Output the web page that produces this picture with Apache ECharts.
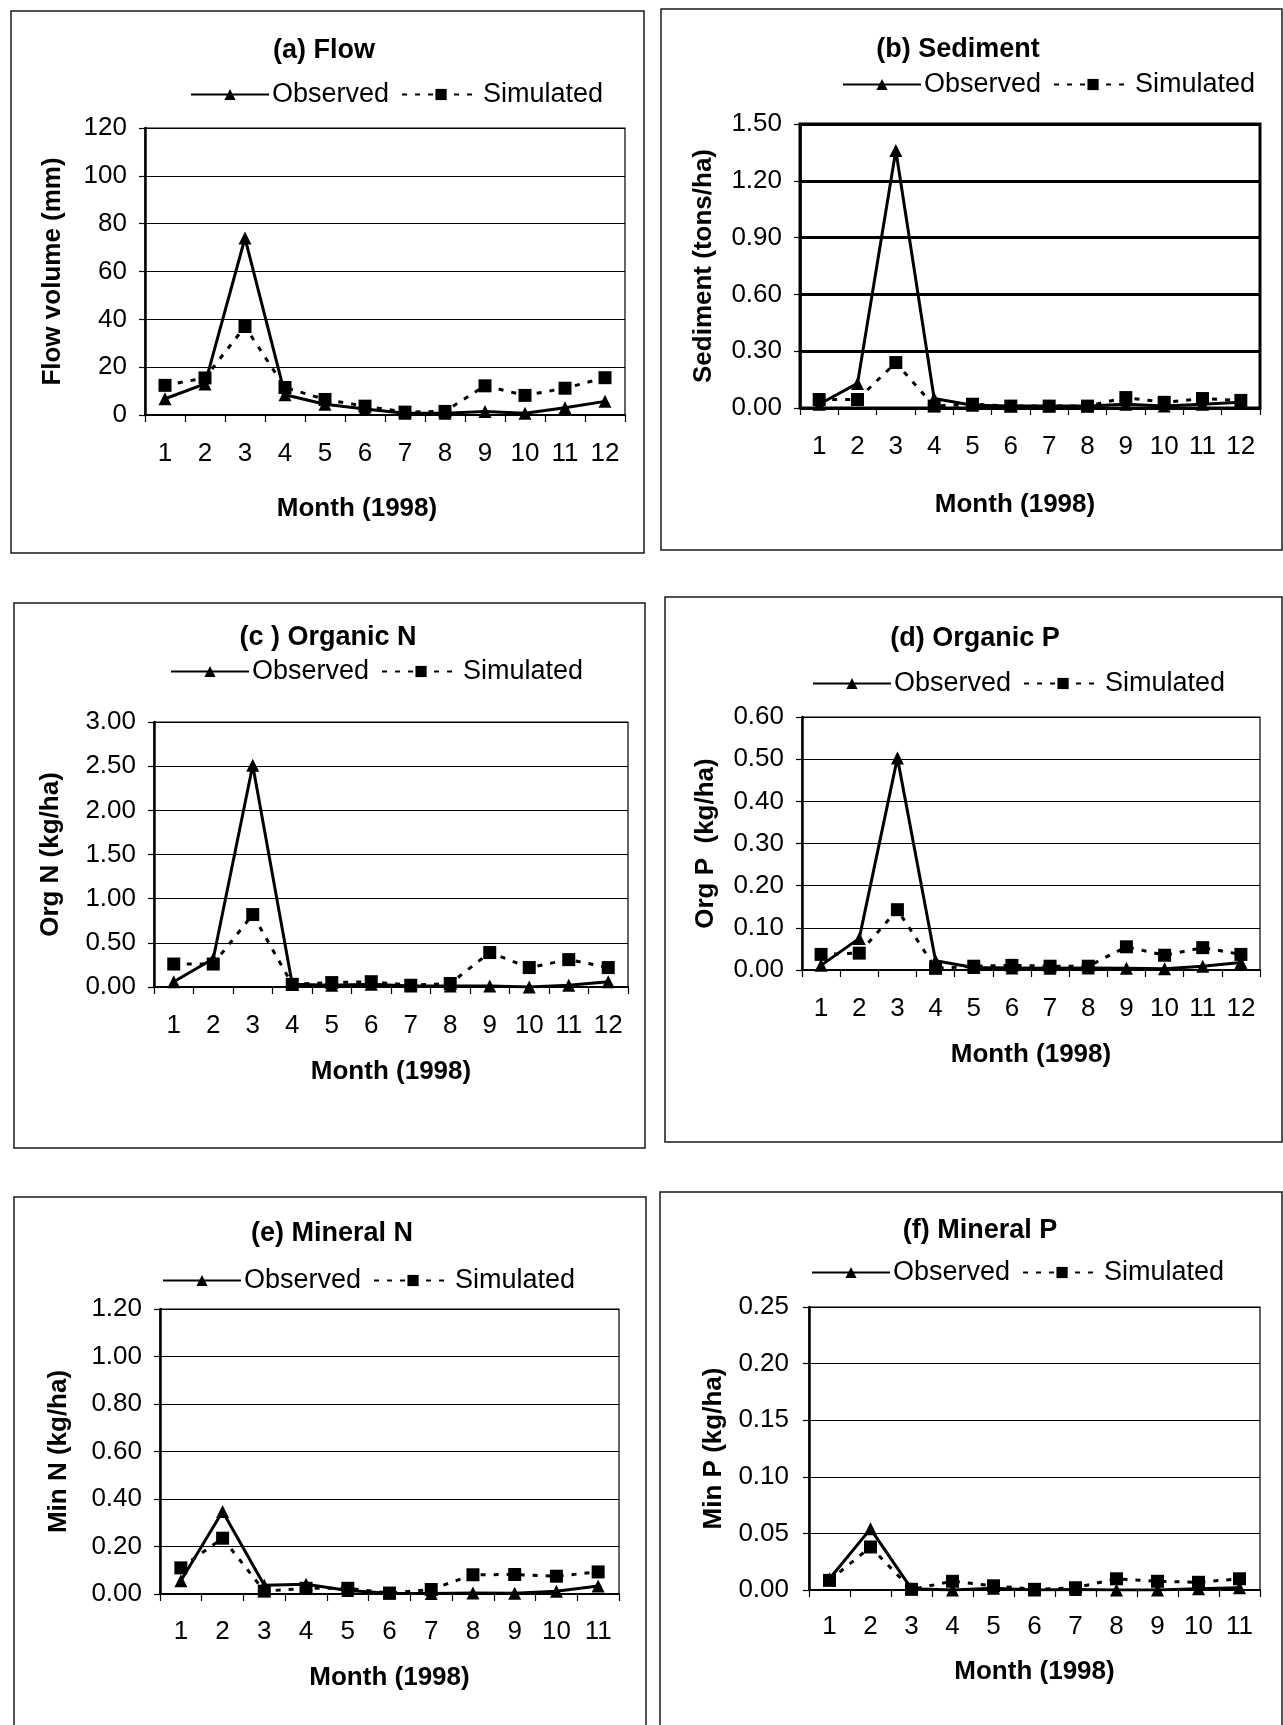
<!DOCTYPE html>
<html>
<head>
<meta charset="utf-8">
<script src="https://cdn.jsdelivr.net/npm/echarts@6/dist/echarts.min.js"></script>
<style>
  html, body { margin: 0; padding: 0; background: #fff; }
  #chart { width: 1283px; height: 1725px; }
</style>
</head>
<body>
<div id="chart"></div>
<script>
// Monthly categories (1998)
const months12 = ['1', '2', '3', '4', '5', '6', '7', '8', '9', '10', '11', '12'];
const months11 = ['1', '2', '3', '4', '5', '6', '7', '8', '9', '10', '11'];

// (a) Flow volume, mm
const flowObs = [6.8, 13, 74, 8.5, 4.5, 2.5, 0.7, 0.7, 1.5, 0.7, 3, 5.7];
const flowSim = [12.4, 15.5, 37, 11.5, 6.5, 3.7, 1.2, 1.5, 12.2, 8.2, 11.2, 15.6];
const flowTicks = [0, 20, 40, 60, 80, 100, 120];

// (b) Sediment, tons/ha
const sedObs = [0.02, 0.13, 1.36, 0.05, 0.015, 0.01, 0.01, 0.01, 0.02, 0.01, 0.02, 0.03];
const sedSim = [0.045, 0.045, 0.24, 0.01, 0.02, 0.01, 0.01, 0.01, 0.055, 0.03, 0.05, 0.04];
const sedTicks = [0, 0.3, 0.6, 0.9, 1.2, 1.5];

// (c) Organic N, kg/ha
const orgNObs = [0.06, 0.32, 2.51, 0.03, 0.02, 0.03, 0.01, 0.01, 0.01, 0.0, 0.02, 0.06];
const orgNSim = [0.26, 0.26, 0.82, 0.03, 0.05, 0.06, 0.02, 0.04, 0.39, 0.22, 0.31, 0.22];
const orgNTicks = [0, 0.5, 1, 1.5, 2, 2.5, 3];

// (d) Organic P, kg/ha
const orgPObs = [0.011, 0.075, 0.503, 0.022, 0.006, 0.005, 0.004, 0.005, 0.004, 0.003, 0.009, 0.018];
const orgPSim = [0.037, 0.04, 0.143, 0.004, 0.009, 0.011, 0.009, 0.009, 0.055, 0.035, 0.053, 0.037];
const orgPTicks = [0, 0.1, 0.2, 0.3, 0.4, 0.5, 0.6];

// (e) Mineral N, kg/ha
const minNObs = [0.056, 0.347, 0.037, 0.041, 0.015, 0.003, 0.002, 0.004, 0.003, 0.012, 0.034];
const minNSim = [0.11, 0.235, 0.012, 0.024, 0.024, 0.004, 0.019, 0.081, 0.082, 0.075, 0.093];
const minNTicks = [0, 0.2, 0.4, 0.6, 0.8, 1, 1.2];

// (f) Mineral P, kg/ha
const minPObs = [0.0099, 0.054, 0.001, 0.0, 0.0015, 0.0, 0.0005, 0.0, 0.0, 0.001, 0.002];
const minPSim = [0.0085, 0.038, 0.0006, 0.0077, 0.0037, 0.0006, 0.002, 0.0099, 0.0077, 0.0068, 0.0099];
const minPTicks = [0, 0.05, 0.1, 0.15, 0.2, 0.25];

const FONT = '"Liberation Sans", Arial, Helvetica, sans-serif';

// Panel layout: frame box, plot box, title/legend anchors and text gaps
const panels = [
  { title: '(a) Flow', yName: 'Flow volume (mm)', cats: months12, obs: flowObs, sim: flowSim, ticks: flowTicks, digits: 0,
    frame: [11, 11, 633, 542], grid: [145, 128, 480, 287], titleXY: [324, 37], legendXY: [190, 81],
    yGap: 79, xGap: 81, xShift: 28, xLabelGap: 26, yLabelGap: 18, heavy: false },
  { title: '(b) Sediment', yName: 'Sediment (tons/ha)', cats: months12, obs: sedObs, sim: sedSim, ticks: sedTicks, digits: 2,
    frame: [661, 9, 621, 541], grid: [800, 124, 460, 284], titleXY: [958, 36], legendXY: [842, 71],
    yGap: 83, xGap: 84, xShift: 15, xLabelGap: 26, yLabelGap: 18, heavy: true },
  { title: '(c ) Organic N', yName: 'Org N (kg/ha)', cats: months12, obs: orgNObs, sim: orgNSim, ticks: orgNTicks, digits: 2,
    frame: [14, 603, 631, 545], grid: [154, 722, 474, 265], titleXY: [328, 624], legendXY: [170, 658],
    yGap: 90, xGap: 72, xShift: 0, xLabelGap: 26, yLabelGap: 18, heavy: false },
  { title: '(d) Organic P', yName: 'Org P  (kg/ha)', cats: months12, obs: orgPObs, sim: orgPSim, ticks: orgPTicks, digits: 2,
    frame: [665, 597, 617, 545], grid: [802, 717, 458, 253], titleXY: [975, 625], legendXY: [812, 670],
    yGap: 83, xGap: 72, xShift: 0, xLabelGap: 26, yLabelGap: 18, heavy: false },
  { title: '(e) Mineral N', yName: 'Min N (kg/ha)', cats: months11, obs: minNObs, sim: minNSim, ticks: minNTicks, digits: 2,
    frame: [14, 1197, 632, 560], grid: [160, 1309, 459, 285], titleXY: [332, 1220], legendXY: [162, 1267],
    yGap: 88, xGap: 71, xShift: 0, xLabelGap: 25, yLabelGap: 18, heavy: false },
  { title: '(f) Mineral P', yName: 'Min P (kg/ha)', cats: months11, obs: minPObs, sim: minPSim, ticks: minPTicks, digits: 2,
    frame: [660, 1192, 622, 560], grid: [809, 1307, 451, 283], titleXY: [980, 1217], legendXY: [811, 1259],
    yGap: 82, xGap: 69, xShift: 0, xLabelGap: 24, yLabelGap: 20, heavy: false }
];

const option = {
  animation: false,
  backgroundColor: '#fff',
  textStyle: { fontFamily: FONT, color: '#000' },
  title: [], legend: [], grid: [], xAxis: [], yAxis: [], series: [],
  graphic: []
};

panels.forEach((p, i) => {
  const [gx, gy, gw, gh] = p.grid;
  const gridLineW = p.heavy ? 3 : 1;

  option.graphic.push({
    type: 'rect', silent: true, z: -10,
    shape: { x: p.frame[0], y: p.frame[1], width: p.frame[2], height: p.frame[3] },
    style: { fill: 'none', stroke: '#1a1a1a', lineWidth: 1.5 }
  });

  option.title.push({
    text: p.title, left: p.titleXY[0], top: p.titleXY[1], textAlign: 'center', padding: 0,
    textStyle: { fontFamily: FONT, fontSize: 27, fontWeight: 'bold', color: '#000' }
  });

  option.legend.push({
    data: ['Observed', 'Simulated'],
    left: p.legendXY[0], top: p.legendXY[1], padding: 0,
    itemWidth: 78, itemHeight: 14, itemGap: 12,
    selectedMode: false,
    textStyle: { fontFamily: FONT, fontSize: 27, color: '#000', padding: [0, 0, 0, -2] }
  });

  option.grid.push({
    left: gx, top: gy, width: gw, height: gh,
    show: true, backgroundColor: '#fff',
    borderColor: '#000', borderWidth: p.heavy ? 3 : 1.2
  });

  option.xAxis.push({
    type: 'category', gridIndex: i, data: p.cats,
    boundaryGap: true,
    name: 'Month (1998)', nameLocation: 'middle', nameGap: p.xGap,
    nameTextStyle: {
      fontFamily: FONT, fontSize: 26, fontWeight: 'bold', color: '#000',
      padding: [0, p.xShift * 2, 0, 0]
    },
    axisLine: { show: true, onZero: false, lineStyle: { color: '#000', width: 2 } },
    axisTick: { show: true, length: 7, lineStyle: { color: '#000', width: 1.2 } },
    axisLabel: { margin: p.xLabelGap, fontFamily: FONT, fontSize: 26, color: '#000' },
    splitLine: { show: false }
  });

  const t = p.ticks;
  option.yAxis.push({
    type: 'value', gridIndex: i,
    min: t[0], max: t[t.length - 1], interval: t[1] - t[0],
    name: p.yName, nameLocation: 'middle', nameGap: p.yGap,
    nameTextStyle: { fontFamily: FONT, fontSize: 26, fontWeight: 'bold', color: '#000' },
    axisLine: { show: true, lineStyle: { color: '#000', width: 2.5 } },
    axisTick: { show: true, length: 6, lineStyle: { color: '#000', width: 1.2 } },
    axisLabel: {
      margin: p.yLabelGap, fontFamily: FONT, fontSize: 26, color: '#000',
      formatter: v => Number(v).toFixed(p.digits)
    },
    splitLine: { show: true, lineStyle: { color: '#000', width: gridLineW } }
  });

  option.series.push({
    type: 'line', name: 'Observed', xAxisIndex: i, yAxisIndex: i,
    data: p.obs, symbol: 'triangle', symbolSize: 13, showAllSymbol: true,
    lineStyle: { color: '#000', width: 3 },
    itemStyle: { color: '#000' },
    z: 3
  });
  option.series.push({
    type: 'line', name: 'Simulated', xAxisIndex: i, yAxisIndex: i,
    data: p.sim, symbol: 'rect', symbolSize: 13, showAllSymbol: true,
    lineStyle: { color: '#000', width: 3, type: [5, 8] },
    itemStyle: { color: '#000' },
    z: 4
  });
});

const chart = echarts.init(document.getElementById('chart'), null, { renderer: 'canvas' });
chart.setOption(option);
</script>
</body>
</html>
